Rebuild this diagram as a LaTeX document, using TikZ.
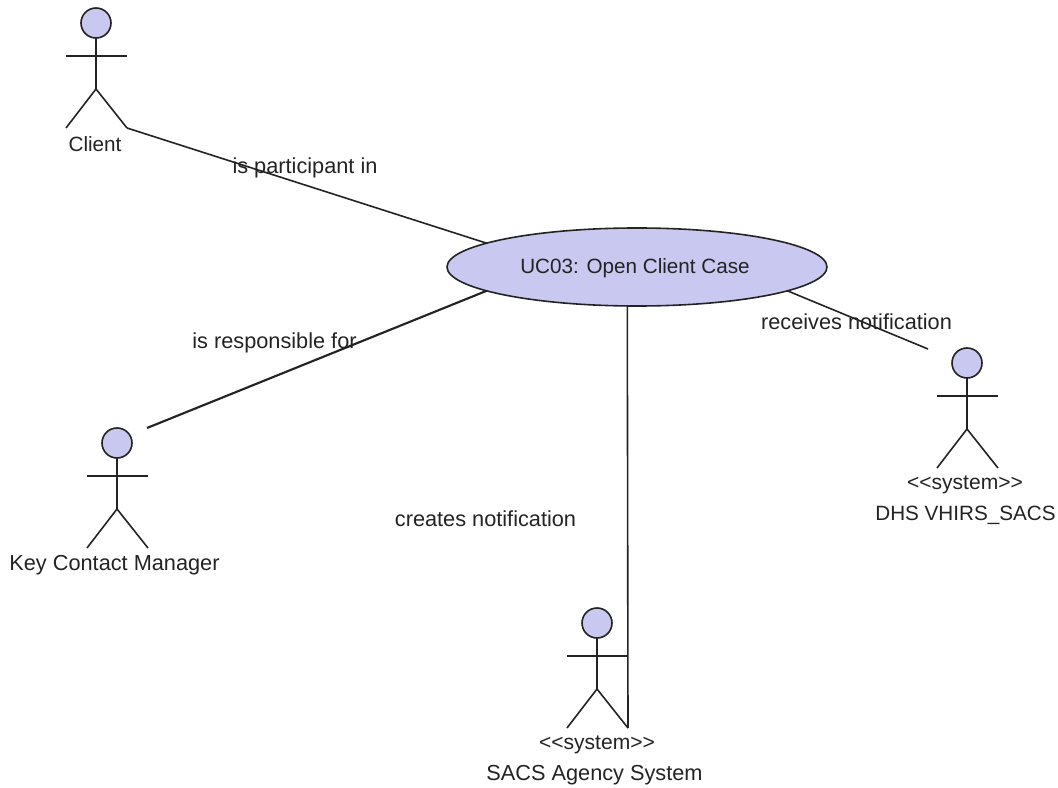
\documentclass[tikz,border=0pt]{standalone}
\usepackage{fontspec}
\setmainfont{Liberation Sans}[Ligatures=NoCommon]
\usetikzlibrary{shapes.geometric}
\definecolor{lav}{RGB}{200,200,240}
\definecolor{ink}{RGB}{35,35,35}
\tikzset{
  x=0.75pt,y=-0.75pt,
  stick/.style={draw=ink,line width=1.2pt},
  conn/.style={draw=ink,line width=1.2pt},
  headc/.style={circle,draw=ink,fill=lav,line width=1.2pt,minimum size=22.5pt,inner sep=0pt,outer sep=0pt},
  usecase/.style={ellipse,draw=ink,fill=lav,line width=1.2pt,minimum width=285pt,minimum height=58.5pt,inner sep=0pt,outer sep=0pt},
  lbl/.style={font=\fontsize{16.3pt}{18pt}\selectfont,text=ink,inner sep=0pt,outer sep=0pt},
  lblc/.style={font=\fontsize{15.5pt}{18pt}\selectfont,text=ink,inner sep=0pt,outer sep=0pt},
  lbls/.style={font=\fontsize{15.8pt}{18pt}\selectfont,text=ink,inner sep=0pt,outer sep=0pt},
}
\newcommand{\stereo}{<{}<system>{}>}
% #1 name, #2 x, #3 y of head centre
\newcommand{\stickactor}[3]{%
  \node[headc] (#1) at (#2,#3) {};
  \coordinate (#1-hip) at (#2,#3+66);
  \coordinate (#1-larm) at (#2-30,#3+33);
  \coordinate (#1-rarm) at (#2+31,#3+33);
  \coordinate (#1-lfoot) at (#2-30,#3+105);
  \coordinate (#1-rfoot) at (#2+31,#3+105);
  \draw[stick] (#1.south) -- (#1-hip);
  \draw[stick] (#1-larm) -- (#1-rarm);
  \draw[stick] (#1-lfoot) -- (#1-hip) -- (#1-rfoot);
}
\begin{document}
\begin{tikzpicture}
\useasboundingbox (0,0) rectangle (1058,788);
\stickactor{client}{96}{23}
\stickactor{key}{117}{443}
\stickactor{sacs}{597}{623}
\stickactor{dhs}{967}{363}
\node[usecase] (uc) at (637,267) {};
\node[lblc] (uctext) at (635,268) {UC03: Open Client Case};
\node[lblc] (clientl) at (95,144) {Client};
\node[lbl] (keyl) at (114.5,565) {Key Contact Manager};
\node[lbls] (sacss) at (597,745) {\stereo};
\node[lbl] (sacsl) at (594.5,775) {SACS Agency System};
\node[lbls] (dhss) at (965,485) {\stereo};
\node[lblc] (dhsl) at (965.5,515) {DHS VHIRS\_SACS};
\coordinate (keyend) at (147,428);
\coordinate (dhsend) at (928,349);
\draw[conn] (client-rfoot) -- (uc.171);
\draw[conn,line width=1.6pt] (uc.189.9) -- (keyend);
\draw[conn] (uc.351.4) -- (dhsend);
\draw[conn] (uc.256.7) -- (sacs-rfoot);
\draw[conn] (sacs-rarm) -- (sacs-rarm -| uc.256.7);
\node[lbl] (l1) at (305,168) {is participant in};
\node[lbl] (l2) at (274.5,343) {is responsible for};
\node[lbl] (l3) at (485.5,519) {creates notification};
\node[lbl] (l4) at (856.5,322) {receives notification};
\end{tikzpicture}
\end{document}
